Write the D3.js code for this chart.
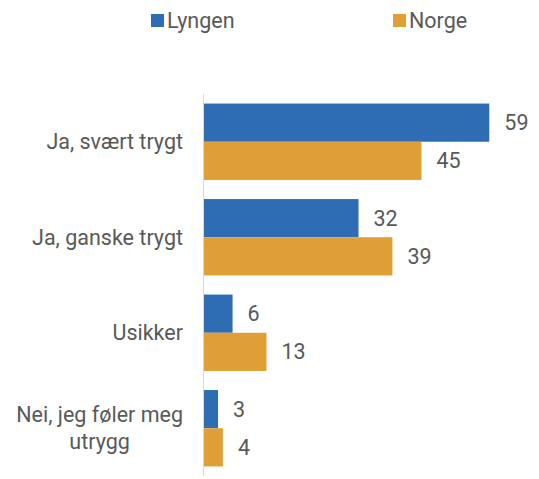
<!DOCTYPE html>
<html>
<head>
<meta charset="utf-8">
<script src="https://cdn.jsdelivr.net/npm/d3@7"></script>
<style>
  html, body { margin: 0; padding: 0; background: #fff; }
  svg text { font-family: Roboto, "Noto Sans", sans-serif; fill: #595959; }
</style>
</head>
<body>
<svg id="chart" width="539" height="479"></svg>
<script>
const categories = [["Ja, svært trygt"], ["Ja, ganske trygt"], ["Usikker"], ["Nei, jeg føler meg", "utrygg"]];
const seriesNames = ["Lyngen", "Norge"];
const lyngen = [59, 32, 6, 3];
const norge = [45, 39, 13, 4];
const colors = ["#2E6DB4", "#E09F36"];

const fontSize = 21.5;
const svg = d3.select("#chart");
const series = [lyngen, norge];

const y = d3.scaleBand()
  .domain(d3.range(categories.length))
  .range([94, 476])
  .paddingInner(0.2)
  .paddingOuter(0.1);

const ySub = d3.scaleBand()
  .domain(d3.range(series.length))
  .range([0, y.bandwidth()]);

const x = d3.scaleLinear().domain([0, 59]).range([203.5, 489.3]);

// bars
const groups = svg.selectAll("g.group")
  .data(categories.map((c, i) => i))
  .join("g")
  .attr("class", "group")
  .attr("transform", i => `translate(0,${y(i)})`);

groups.selectAll("rect")
  .data(i => series.map((s, k) => ({ k, v: s[i] })))
  .join("rect")
  .attr("x", x(0))
  .attr("y", d => ySub(d.k))
  .attr("width", d => x(d.v) - x(0))
  .attr("height", ySub.bandwidth())
  .attr("fill", d => colors[d.k]);

groups.selectAll("text.val")
  .data(i => series.map((s, k) => ({ k, v: s[i] })))
  .join("text")
  .attr("class", "val")
  .attr("x", d => x(d.v) + 15)
  .attr("y", d => ySub(d.k) + ySub.bandwidth() / 2)
  .attr("dy", "0.35em")
  .attr("font-size", fontSize)
  .text(d => d.v);

// vertical axis line
svg.append("line")
  .attr("x1", x(0)).attr("x2", x(0))
  .attr("y1", y.range()[0]).attr("y2", y.range()[1])
  .attr("stroke", "#D9D9D9")
  .attr("stroke-width", 1);

// category labels
const catLabels = svg.selectAll("text.cat")
  .data(categories)
  .join("text")
  .attr("class", "cat")
  .attr("font-size", fontSize)
  .attr("text-anchor", "middle")
  .each(function (lines, i) {
    const t = d3.select(this);
    const cy = y(i) + y.bandwidth() / 2;
    const lh = 27;
    lines.forEach((ln, j) => {
      t.append("tspan")
        .attr("y", cy + (j - (lines.length - 1) / 2) * lh)
        .attr("dy", "0.35em")
        .text(ln);
    });
  });
// right-align each label block to the axis while centring its lines
catLabels.each(function () {
  const t = d3.select(this);
  t.selectAll("tspan").attr("x", 0);
  const w = this.getBBox().width;
  t.selectAll("tspan").attr("x", 183 - w / 2);
});

// legend
const legendX = [151, 393];
const legend = svg.selectAll("g.legend")
  .data(seriesNames)
  .join("g")
  .attr("class", "legend")
  .attr("transform", (d, i) => `translate(${legendX[i]},14)`);
legend.append("rect")
  .attr("width", 13).attr("height", 13).attr("y", 0)
  .attr("fill", (d, i) => colors[i]);
legend.append("text")
  .attr("x", 16).attr("y", 6.5).attr("dy", "0.35em")
  .attr("font-size", fontSize)
  .text(d => d);
</script>
</body>
</html>
